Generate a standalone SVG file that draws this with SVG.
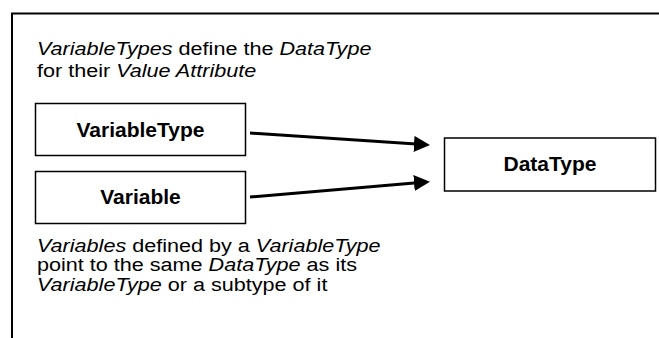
<svg xmlns="http://www.w3.org/2000/svg" width="659" height="338" viewBox="0 0 659 338">
<style>
.frame{fill:none;stroke:#000;stroke-width:2}
.box{fill:#fff;stroke:#000;stroke-width:1.5}
.lbl{font-family:"Liberation Sans",Arial,sans-serif;font-weight:bold;font-size:21px;fill:#000;text-anchor:middle}
.note{font-family:"Liberation Sans",Arial,sans-serif;font-size:19px;fill:#000}
.it{font-style:italic}
.conn{fill:none;stroke:#000;stroke-width:3}
</style>
<defs>
<marker id="arrow" markerUnits="userSpaceOnUse" markerWidth="16" markerHeight="16" refX="6" refY="8" orient="auto">
<path d="M0,0 L16,8 L0,16 z" fill="#000"/>
</marker>
</defs>
<path class="frame" d="M12,338 V13.5 H660"/>
<g id="note-top" transform="matrix(1.137 0 0 1 -5.07 0)">
<text class="note" x="37" y="55"><tspan class="it">VariableTypes</tspan> define the <tspan class="it">DataType</tspan></text>
<text class="note" x="37" y="77">for their <tspan class="it">Value Attribute</tspan></text>
</g>
<g id="node-variabletype">
<rect class="box" x="35.5" y="103.5" width="210" height="52"/>
<text class="lbl" x="140.5" y="137">VariableType</text>
</g>
<g id="node-variable">
<rect class="box" x="35.5" y="171.5" width="210" height="52"/>
<text class="lbl" x="140.5" y="203.5">Variable</text>
</g>
<g id="node-datatype">
<rect class="box" x="444.5" y="138" width="211" height="53"/>
<text class="lbl" x="550" y="170.5">DataType</text>
</g>
<g id="connectors">
<line class="conn" x1="250" y1="133" x2="420" y2="144.3" marker-end="url(#arrow)"/>
<line class="conn" x1="250" y1="197" x2="420" y2="182.5" marker-end="url(#arrow)"/>
</g>
<g id="note-bottom" transform="matrix(1.137 0 0 1 -5.07 0)">
<text class="note" x="37" y="252"><tspan class="it">Variables</tspan> defined by a <tspan class="it">VariableType</tspan></text>
<text class="note" x="37" y="271.5">point to the same <tspan class="it">DataType</tspan> as its</text>
<text class="note" x="37" y="291"><tspan class="it">VariableType</tspan> or a subtype of it</text>
</g>
</svg>
